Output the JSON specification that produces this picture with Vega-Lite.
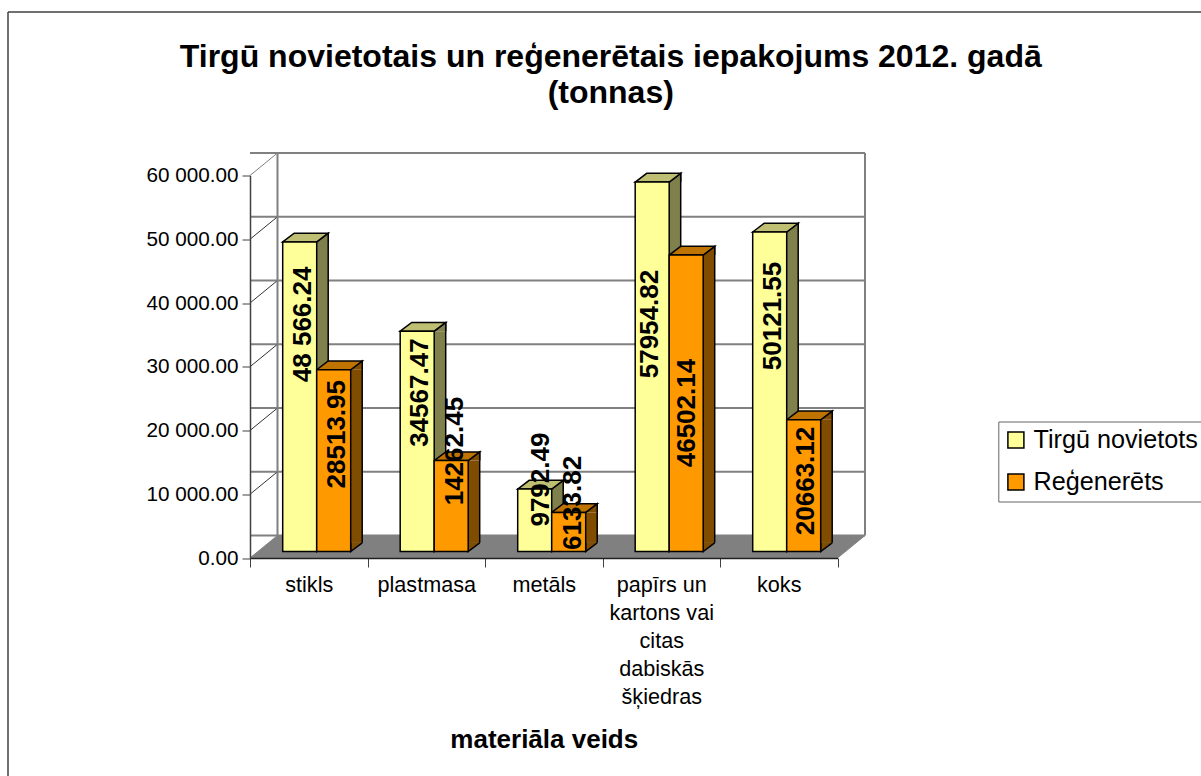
{
"$schema":"https://vega.github.io/schema/vega-lite/v6.json",
"autosize":"none","width":587.5,"height":382.5,
"padding":{"left":250,"top":175.5,"right":363.5,"bottom":218},
"background":"white",
"config":{"view":{"stroke":null},"font":"Liberation Sans"},
"title":{"text":["Tirgū novietotais un reģenerētais iepakojums 2012. gadā","(tonnas)"],"font":"Liberation Sans","fontSize":32,"fontWeight":"bold","lineHeight":36,"anchor":"middle","dx":67,"offset":-99,"color":"black"},
"datasets":{"bars":[
{"material":"stikls","series":"Tirgū novietots","value":48566.24,"label":"48 566.24"},
{"material":"stikls","series":"Reģenerēts","value":28513.95,"label":"28513.95"},
{"material":"plastmasa","series":"Tirgū novietots","value":34567.47,"label":"34567.47"},
{"material":"plastmasa","series":"Reģenerēts","value":14262.45,"label":"14262.45"},
{"material":"metāls","series":"Tirgū novietots","value":9792.49,"label":"9792.49"},
{"material":"metāls","series":"Reģenerēts","value":6133.82,"label":"6133.82"},
{"material":"papīrs un|kartons vai|citas|dabiskās|šķiedras","series":"Tirgū novietots","value":57954.82,"label":"57954.82"},
{"material":"papīrs un|kartons vai|citas|dabiskās|šķiedras","series":"Reģenerēts","value":46502.14,"label":"46502.14"},
{"material":"koks","series":"Tirgū novietots","value":50121.55,"label":"50121.55"},
{"material":"koks","series":"Reģenerēts","value":20663.12,"label":"20663.12"}
],
"grid":[{"tick":0},{"tick":10000},{"tick":20000},{"tick":30000},{"tick":40000},{"tick":50000},{"tick":60000}]},
"layer":[
{"data":{"name":"grid"},"mark":{"type":"rule","xOffset":27.5,"x2Offset":27.5,"yOffset":-22.5,"color":"#808080","strokeWidth":2},"encoding":{"y":{"field":"tick","type":"quantitative","scale":{"domain":[0,60000],"nice":false},"axis":{"values":[0,10000,20000,30000,40000,50000,60000],"title":null,"grid":false,"labelExpr":"replace(format(datum.value,',.2f'),',',' ')","labelFont":"Liberation Sans","labelFontSize":20.7,"labelColor":"black","labelPadding":4,"tickSize":8,"tickColor":"#404040","domainColor":"#404040","domainWidth":1.5,"zindex":1}}}},
{"data":{"name":"grid"},"transform":[{"filter":"datum.tick>0"}],"mark":{"type":"rule","y2Offset":-22.5,"strokeWidth":1},"encoding":{"x":{"value":0},"x2":{"value":27.5},"y":{"field":"tick","type":"quantitative"},"y2":{"field":"tick"},"color":{"condition":{"test":"datum.tick==60000","value":"#808080"},"value":"#333333"}}},
{"data":{"values":[{"tick":0}]},"mark":{"type":"rule","color":"#808080","strokeWidth":2,"yOffset":-22.5,"y2Offset":-22.5},"encoding":{"x":{"value":27.5},"y":{"datum":0,"type":"quantitative"},"y2":{"datum":60000}}},
{"data":{"values":[{"tick":0}]},"mark":{"type":"rule","color":"#808080","strokeWidth":2,"yOffset":-22.5,"y2Offset":-22.5},"encoding":{"x":{"value":615},"y":{"datum":0,"type":"quantitative"},"y2":{"datum":60000}}},
{"data":{"values":[{"tick":0}]},"mark":{"type":"point","filled":true,"opacity":1,"size":4,"shape":"M0,0 L27.5,-22.5 L615,-22.5 L587.5,0 Z","color":"#808080","stroke":"#808080","strokeWidth":1},"encoding":{"x":{"value":0},"y":{"datum":0,"type":"quantitative"}}},
{"data":{"values":[{"tick":0}]},"mark":{"type":"rule","color":"#404040","strokeWidth":1.5},"encoding":{"x":{"value":-242},"y":{"value":-163.5},"y2":{"value":600.5}}},
{"data":{"values":[{"tick":0}]},"mark":{"type":"rule","color":"#404040","strokeWidth":1.5},"encoding":{"x":{"value":-242},"x2":{"value":951},"y":{"value":-163.5}}},
{"data":{"name":"bars"},
"encoding":{
"x":{"field":"material","type":"nominal","sort":null,"scale":{"paddingInner":0,"paddingOuter":0,"align":0},"axis":{"title":"materiāla veids","titleFont":"Liberation Sans","titleFontSize":26,"titleFontWeight":"bold","titleColor":"black","titleY":181,"titleBaseline":"middle","labelFont":"Liberation Sans","labelFontSize":21.6,"labelColor":"black","labelAngle":0,"labelAlign":"center","labelBaseline":"middle","labelPadding":18,"labelLimit":0,"labelLineHeight":28,"labelExpr":"split(datum.label,'|')","tickBand":"extent","tickSize":9,"tickColor":"#404040","domainColor":"#202020","domainWidth":1.5,"zindex":1}},
"y":{"field":"value","type":"quantitative","stack":null}
},
"layer":[
{"transform":[{"filter":"datum.series=='Tirgū novietots'"}],"mark":{"type":"bar","width":34,"xOffset":2.45,"yOffset":-6.5,"y2Offset":-15.2,"color":"#80804D"},"encoding":{"y2":{"datum":0}}},
{"transform":[{"filter":"datum.series=='Reģenerēts'"}],"mark":{"type":"bar","width":34,"xOffset":36.45,"yOffset":-6.5,"y2Offset":-15.2,"color":"#804D00"},"encoding":{"y2":{"datum":0}}},
{"transform":[{"filter":"datum.series=='Tirgū novietots'"}],"mark":{"type":"rule","xOffset":19.45,"yOffset":-15.2,"y2Offset":-15.2,"color":"black","strokeWidth":1.5},"encoding":{"y2":{"datum":0}}},
{"transform":[{"filter":"datum.series=='Reģenerēts'"}],"mark":{"type":"rule","xOffset":53.45,"yOffset":-15.2,"y2Offset":-15.2,"color":"black","strokeWidth":1.5},"encoding":{"y2":{"datum":0}}},
{"encoding":{"xOffset":{"field":"series","type":"nominal","sort":null,"scale":{"domain":["Tirgū novietots","Reģenerēts"],"range":[32.7,100.7],"paddingInner":0,"paddingOuter":0}}},
"layer":[
{"mark":{"type":"point","filled":true,"opacity":1,"size":4,"yOffset":-6.5,"shape":"M28.5,0 L28.5,-8.7 L17,0","stroke":"black","strokeWidth":1.5},"encoding":{"fill":{"condition":{"test":"datum.series=='Reģenerēts'","value":"#804D00"},"value":"#80804D"}}},
{"mark":{"type":"point","filled":true,"opacity":1,"size":4,"yOffset":-6.5,"shape":"M17,-8.7 L17,0 L28.5,-8.7","stroke":"black","strokeWidth":1.5},"encoding":{"y":{"datum":0,"type":"quantitative"},"fill":{"condition":{"test":"datum.series=='Reģenerēts'","value":"#804D00"},"value":"#80804D"}}},
{"mark":{"type":"point","filled":true,"opacity":1,"size":4,"yOffset":-6.5,"shape":"M-17,0 L-5.5,-8.7 L28.5,-8.7 L17,0 Z","stroke":"black","strokeWidth":1.5},"encoding":{"fill":{"condition":{"test":"datum.series=='Reģenerēts'","value":"#BF7300"},"value":"#BFBF73"}}},
{"mark":{"type":"bar","stroke":"black","strokeWidth":1.5,"yOffset":-6.5,"y2Offset":-6.5},"encoding":{"y2":{"datum":0},
"color":{"field":"series","type":"nominal","sort":null,"scale":{"domain":["Tirgū novietots","Reģenerēts"],"range":["#FFFF99","#FF9900"]},
"legend":{"title":null,"orient":"none","legendX":748.3,"legendY":246,"fillColor":"white","strokeColor":"#666666","padding":6,"symbolType":"square","symbolSize":256,"symbolOffset":-1,"symbolStrokeColor":"black","symbolStrokeWidth":1.5,"labelFont":"Liberation Sans","labelFontSize":25.2,"labelColor":"black","labelOffset":5,"rowPadding":16,"labelLimit":300}}}},
{"transform":[{"filter":"datum.value==48566.24"}],"mark":{"type":"text","font":"Liberation Sans","fontWeight":"bold","fontSize":26,"angle":270,"color":"black","dy":3,"yOffset":76},"encoding":{"text":{"field":"label"}}},
{"transform":[{"filter":"datum.value==28513.95"}],"mark":{"type":"text","font":"Liberation Sans","fontWeight":"bold","fontSize":26,"angle":270,"color":"black","dy":3.5,"yOffset":58},"encoding":{"text":{"field":"label"}}},
{"transform":[{"filter":"datum.value==34567.47"}],"mark":{"type":"text","font":"Liberation Sans","fontWeight":"bold","fontSize":26,"angle":270,"color":"black","dy":3,"yOffset":55},"encoding":{"text":{"field":"label"}}},
{"transform":[{"filter":"datum.value==14262.45"}],"mark":{"type":"text","font":"Liberation Sans","fontWeight":"bold","fontSize":26,"angle":270,"color":"black","dy":3.5,"yOffset":-16},"encoding":{"text":{"field":"label"}}},
{"transform":[{"filter":"datum.value==9792.49"}],"mark":{"type":"text","font":"Liberation Sans","fontWeight":"bold","fontSize":26,"angle":270,"color":"black","dy":6.5,"yOffset":-16},"encoding":{"text":{"field":"label"}}},
{"transform":[{"filter":"datum.value==6133.82"}],"mark":{"type":"text","font":"Liberation Sans","fontWeight":"bold","fontSize":26,"angle":270,"color":"black","dy":4,"yOffset":-16},"encoding":{"text":{"field":"label"}}},
{"transform":[{"filter":"datum.value==57954.82"}],"mark":{"type":"text","font":"Liberation Sans","fontWeight":"bold","fontSize":26,"angle":270,"color":"black","dy":-2.5,"yOffset":135.5},"encoding":{"text":{"field":"label"}}},
{"transform":[{"filter":"datum.value==46502.14"}],"mark":{"type":"text","font":"Liberation Sans","fontWeight":"bold","fontSize":26,"angle":270,"color":"black","dy":0.5,"yOffset":151.5},"encoding":{"text":{"field":"label"}}},
{"transform":[{"filter":"datum.value==50121.55"}],"mark":{"type":"text","font":"Liberation Sans","fontWeight":"bold","fontSize":26,"angle":270,"color":"black","dy":3.5,"yOffset":77.5},"encoding":{"text":{"field":"label"}}},
{"transform":[{"filter":"datum.value==20663.12"}],"mark":{"type":"text","font":"Liberation Sans","fontWeight":"bold","fontSize":26,"angle":270,"color":"black","dy":2.5,"yOffset":54.7},"encoding":{"text":{"field":"label"}}}
]}
]}
]
}
